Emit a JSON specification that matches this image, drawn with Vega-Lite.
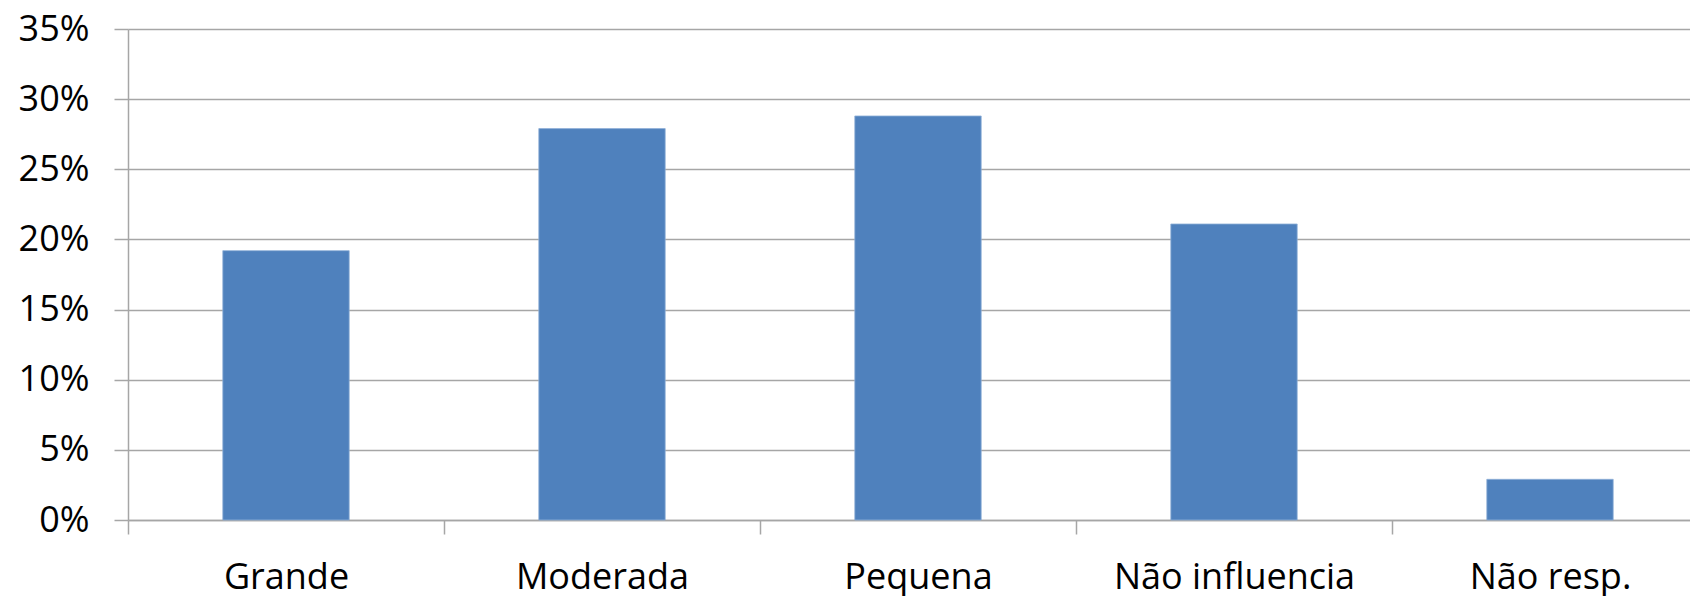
{
  "$schema": "https://vega.github.io/schema/vega-lite/v6.json",
  "autosize": {"type": "none"},
  "padding": {"left": 128, "top": 29, "right": 0, "bottom": 76},
  "width": 1562,
  "height": 491,
  "background": "white",
  "config": {
    "view": {"stroke": null},
    "font": "Open Sans"
  },
  "data": {
    "values": [
      {"categoria": "Grande", "pct": 0.192},
      {"categoria": "Moderada", "pct": 0.279},
      {"categoria": "Pequena", "pct": 0.288},
      {"categoria": "Não influencia", "pct": 0.211},
      {"categoria": "Não resp.", "pct": 0.029}
    ]
  },
  "mark": {"type": "bar", "color": "#4F81BD", "stroke": "#8fb0d8", "strokeWidth": 0.8},
  "encoding": {
    "x": {
      "field": "categoria",
      "type": "nominal",
      "sort": null,
      "title": null,
      "scale": {"range": [0, 1580], "paddingInner": 0.6, "paddingOuter": 0.3},
      "axis": {
        "labelAngle": 0,
        "labelFont": "Open Sans",
        "labelFontSize": 36,
        "labelColor": "#000000",
        "labelPadding": 26,
        "labelLimit": 0,
        "tickOffset": -158,
        "labelOffset": 158,
        "tickSize": 14,
        "tickColor": "#a6a6a6",
        "tickWidth": 1.5,
        "domainColor": "#a6a6a6",
        "domainWidth": 1.5,
        "grid": false
      }
    },
    "y": {
      "field": "pct",
      "type": "quantitative",
      "title": null,
      "scale": {"domain": [0, 0.35], "nice": false},
      "axis": {
        "format": ".0%",
        "values": [0, 0.05, 0.1, 0.15, 0.2, 0.25, 0.3, 0.35],
        "labelFont": "Open Sans",
        "labelFontSize": 36,
        "labelColor": "#000000",
        "labelPadding": 25,
        "tickSize": 14,
        "tickColor": "#a6a6a6",
        "tickWidth": 1.5,
        "domainColor": "#a6a6a6",
        "domainWidth": 1.5,
        "grid": true,
        "gridColor": "#a6a6a6",
        "gridWidth": 1.5
      }
    }
  }
}
